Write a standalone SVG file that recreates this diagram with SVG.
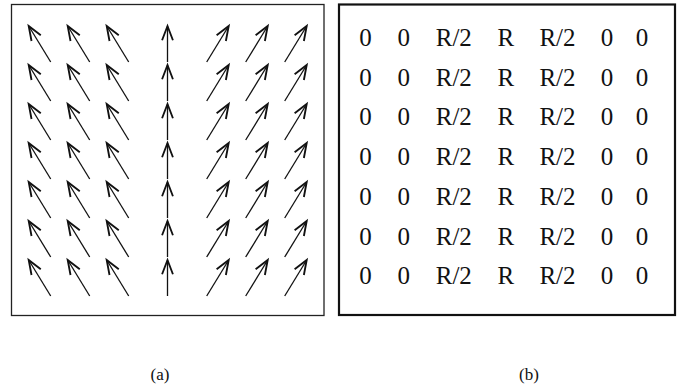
<svg xmlns="http://www.w3.org/2000/svg" width="677" height="384" viewBox="0 0 677 384">
<style>
.frame{fill:none;stroke:#222;stroke-width:1.3}
.frame2{fill:none;stroke:#111;stroke-width:2.2}
.ar{stroke:#111;stroke-width:1.3;fill:none;marker-end:url(#head)}
.v{font-family:"Liberation Serif","Times New Roman",serif;font-size:25px;fill:#111;text-anchor:middle}
.lab{font-family:"Liberation Serif","Times New Roman",serif;font-size:17px;fill:#111;text-anchor:middle}
</style>
<defs>
<marker id="head" markerUnits="userSpaceOnUse" orient="auto" markerWidth="20" markerHeight="20" refX="0" refY="0" viewBox="-12 -6 14 12" overflow="visible">
<path d="M-10,-3.8 L0,0 L-10,3.8" fill="none" stroke="#111" stroke-width="1.3"/>
</marker>
</defs>
<g id="panel-a">
<rect class="frame" x="11.5" y="4.5" width="312.5" height="311"/>
<g id="arrows">
<line class="ar" x1="50.7" y1="62" x2="28.7" y2="26"/><line class="ar" x1="89.7" y1="62" x2="67.7" y2="26"/><line class="ar" x1="128.7" y1="62" x2="106.7" y2="26"/><line class="ar" x1="167.5" y1="62" x2="167.5" y2="26"/><line class="ar" x1="206.7" y1="62" x2="228.7" y2="26"/><line class="ar" x1="245.7" y1="62" x2="267.7" y2="26"/><line class="ar" x1="284.7" y1="62" x2="306.7" y2="26"/>
<line class="ar" x1="50.7" y1="101" x2="28.7" y2="65"/><line class="ar" x1="89.7" y1="101" x2="67.7" y2="65"/><line class="ar" x1="128.7" y1="101" x2="106.7" y2="65"/><line class="ar" x1="167.5" y1="101" x2="167.5" y2="65"/><line class="ar" x1="206.7" y1="101" x2="228.7" y2="65"/><line class="ar" x1="245.7" y1="101" x2="267.7" y2="65"/><line class="ar" x1="284.7" y1="101" x2="306.7" y2="65"/>
<line class="ar" x1="50.7" y1="140" x2="28.7" y2="104"/><line class="ar" x1="89.7" y1="140" x2="67.7" y2="104"/><line class="ar" x1="128.7" y1="140" x2="106.7" y2="104"/><line class="ar" x1="167.5" y1="140" x2="167.5" y2="104"/><line class="ar" x1="206.7" y1="140" x2="228.7" y2="104"/><line class="ar" x1="245.7" y1="140" x2="267.7" y2="104"/><line class="ar" x1="284.7" y1="140" x2="306.7" y2="104"/>
<line class="ar" x1="50.7" y1="179" x2="28.7" y2="143"/><line class="ar" x1="89.7" y1="179" x2="67.7" y2="143"/><line class="ar" x1="128.7" y1="179" x2="106.7" y2="143"/><line class="ar" x1="167.5" y1="179" x2="167.5" y2="143"/><line class="ar" x1="206.7" y1="179" x2="228.7" y2="143"/><line class="ar" x1="245.7" y1="179" x2="267.7" y2="143"/><line class="ar" x1="284.7" y1="179" x2="306.7" y2="143"/>
<line class="ar" x1="50.7" y1="218" x2="28.7" y2="182"/><line class="ar" x1="89.7" y1="218" x2="67.7" y2="182"/><line class="ar" x1="128.7" y1="218" x2="106.7" y2="182"/><line class="ar" x1="167.5" y1="218" x2="167.5" y2="182"/><line class="ar" x1="206.7" y1="218" x2="228.7" y2="182"/><line class="ar" x1="245.7" y1="218" x2="267.7" y2="182"/><line class="ar" x1="284.7" y1="218" x2="306.7" y2="182"/>
<line class="ar" x1="50.7" y1="257" x2="28.7" y2="221"/><line class="ar" x1="89.7" y1="257" x2="67.7" y2="221"/><line class="ar" x1="128.7" y1="257" x2="106.7" y2="221"/><line class="ar" x1="167.5" y1="257" x2="167.5" y2="221"/><line class="ar" x1="206.7" y1="257" x2="228.7" y2="221"/><line class="ar" x1="245.7" y1="257" x2="267.7" y2="221"/><line class="ar" x1="284.7" y1="257" x2="306.7" y2="221"/>
<line class="ar" x1="50.7" y1="296" x2="28.7" y2="260"/><line class="ar" x1="89.7" y1="296" x2="67.7" y2="260"/><line class="ar" x1="128.7" y1="296" x2="106.7" y2="260"/><line class="ar" x1="167.5" y1="296" x2="167.5" y2="260"/><line class="ar" x1="206.7" y1="296" x2="228.7" y2="260"/><line class="ar" x1="245.7" y1="296" x2="267.7" y2="260"/><line class="ar" x1="284.7" y1="296" x2="306.7" y2="260"/>
</g>
<text class="lab" x="160" y="380">(a)</text>
</g>
<g id="panel-b">
<rect class="frame2" x="339" y="4.5" width="336" height="310.5"/>
<g id="values">
<text class="v" y="46"><tspan x="365.5">0</tspan><tspan x="403.7">0</tspan><tspan x="453.8">R/2</tspan><tspan x="505.8">R</tspan><tspan x="557.5">R/2</tspan><tspan x="607">0</tspan><tspan x="642">0</tspan></text>
<text class="v" y="85.7"><tspan x="365.5">0</tspan><tspan x="403.7">0</tspan><tspan x="453.8">R/2</tspan><tspan x="505.8">R</tspan><tspan x="557.5">R/2</tspan><tspan x="607">0</tspan><tspan x="642">0</tspan></text>
<text class="v" y="125.4"><tspan x="365.5">0</tspan><tspan x="403.7">0</tspan><tspan x="453.8">R/2</tspan><tspan x="505.8">R</tspan><tspan x="557.5">R/2</tspan><tspan x="607">0</tspan><tspan x="642">0</tspan></text>
<text class="v" y="165.1"><tspan x="365.5">0</tspan><tspan x="403.7">0</tspan><tspan x="453.8">R/2</tspan><tspan x="505.8">R</tspan><tspan x="557.5">R/2</tspan><tspan x="607">0</tspan><tspan x="642">0</tspan></text>
<text class="v" y="204.8"><tspan x="365.5">0</tspan><tspan x="403.7">0</tspan><tspan x="453.8">R/2</tspan><tspan x="505.8">R</tspan><tspan x="557.5">R/2</tspan><tspan x="607">0</tspan><tspan x="642">0</tspan></text>
<text class="v" y="244.5"><tspan x="365.5">0</tspan><tspan x="403.7">0</tspan><tspan x="453.8">R/2</tspan><tspan x="505.8">R</tspan><tspan x="557.5">R/2</tspan><tspan x="607">0</tspan><tspan x="642">0</tspan></text>
<text class="v" y="284.2"><tspan x="365.5">0</tspan><tspan x="403.7">0</tspan><tspan x="453.8">R/2</tspan><tspan x="505.8">R</tspan><tspan x="557.5">R/2</tspan><tspan x="607">0</tspan><tspan x="642">0</tspan></text>
</g>
<text class="lab" x="529" y="380">(b)</text>
</g>
</svg>
